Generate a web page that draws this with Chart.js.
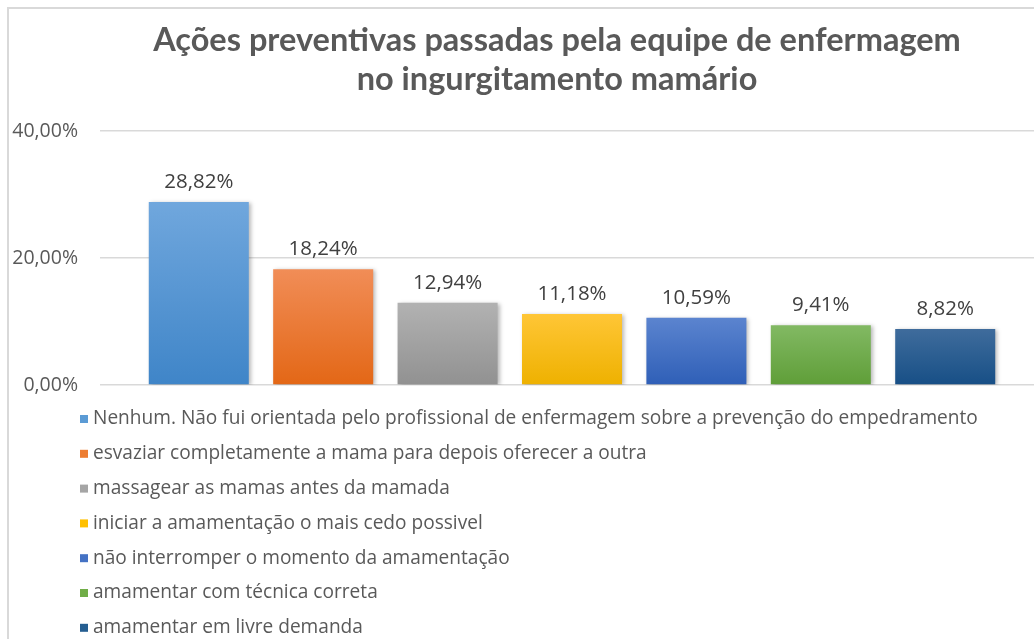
<!DOCTYPE html>
<html>
<head>
<meta charset="utf-8">
<script src="https://cdn.jsdelivr.net/npm/chart.js@4"></script>
<style>
  html, body { margin: 0; padding: 0; background: #ffffff; overflow: hidden; width: 1034px; height: 639px; }
  #wrap { position: absolute; left: 7px; top: 7px; width: 1100px; height: 700px; border: 2px solid #d9d9d9; background: #fff; }
  #box { position: absolute; left: 0; top: 0; width: 1035px; height: 640px; }
</style>
</head>
<body>
<div id="wrap"><div id="box"><canvas id="c"></canvas></div></div>
<script>
const titleLines = ['Ações preventivas passadas pela equipe de enfermagem', 'no ingurgitamento mamário'];
const seriesNames = [
  'Nenhum. Não fui orientada pelo profissional de enfermagem sobre a prevenção do empedramento',
  'esvaziar completamente a mama para depois oferecer a outra',
  'massagear as mamas antes da mamada',
  'iniciar a amamentação o mais cedo possivel',
  'não interromper o momento da amamentação',
  'amamentar com técnica correta',
  'amamentar em livre demanda'
];
const seriesValues = [28.82, 18.24, 12.94, 11.18, 10.59, 9.41, 8.82];
const topColors = ['#70a7dd', '#f18d57', '#b2b2b2', '#ffc636', '#5b84cf', '#82b963', '#3f6c9c'];
const bottomColors = ['#3f85c8', '#e36716', '#919191', '#eeb100', '#2f5fb7', '#5f9e38', '#174f86'];
const legendColors = ['#5b9bd5', '#ed7d31', '#a5a5a5', '#ffc000', '#4472c4', '#70ad47', '#255e91'];
const yTicks = [0, 20, 40];

const fmt = v => v.toFixed(2).replace('.', ',') + '%';
const FONT = '"Open Sans", "Liberation Sans", sans-serif';

function gradFor(i) {
  return function(ctx) {
    const chart = ctx.chart;
    const area = chart.chartArea;
    if (!area || !chart.scales.y) return legendColors[i];
    const yTop = chart.scales.y.getPixelForValue(seriesValues[i]);
    const g = chart.ctx.createLinearGradient(0, yTop, 0, area.bottom);
    g.addColorStop(0, topColors[i]);
    g.addColorStop(1, bottomColors[i]);
    return g;
  };
}

const titlePlugin = {
  id: 'titleDraw',
  afterDraw(chart) {
    const ctx = chart.ctx;
    ctx.save();
    ctx.font = 'bold 32.5px Lato, ' + FONT;
    ctx.fillStyle = '#595959';
    ctx.textAlign = 'center';
    ctx.textBaseline = 'middle';
    titleLines.forEach((t, i) => ctx.fillText(t, 548, 32 + i * 39));
    ctx.restore();
  }
};

const shadowPlugin = {
  id: 'barShadow',
  beforeDatasetsDraw(chart) {
    const ctx = chart.ctx;
    ctx.save();
    ctx.shadowColor = 'rgba(0,0,0,0.28)';
    ctx.shadowBlur = 4;
    ctx.shadowOffsetX = 2;
    ctx.shadowOffsetY = 1;
  },
  afterDatasetsDraw(chart) {
    chart.ctx.restore();
  }
};

const valueLabelPlugin = {
  id: 'valueLabels',
  afterDatasetsDraw(chart) {
    const ctx = chart.ctx;
    ctx.save();
    ctx.font = '20.5px ' + FONT;
    ctx.fillStyle = '#404040';
    ctx.textAlign = 'center';
    ctx.textBaseline = 'alphabetic';
    chart.data.datasets.forEach((ds, i) => {
      chart.getDatasetMeta(i).data.forEach((bar, j) => {
        ctx.fillText(fmt(ds.data[j]), bar.x, bar.y - 14);
      });
    });
    ctx.restore();
  }
};

const legendPlugin = {
  id: 'listLegend',
  afterDraw(chart) {
    const ctx = chart.ctx;
    const a = chart.chartArea;
    ctx.save();
    ctx.font = '19.1px ' + FONT;
    ctx.textAlign = 'left';
    ctx.textBaseline = 'middle';
    chart.data.datasets.forEach((ds, i) => {
      const y = a.bottom + 34 + i * 34.8;
      ctx.fillStyle = legendColors[i];
      ctx.fillRect(a.left - 20, y - 4, 8, 8);
      ctx.fillStyle = '#595959';
      ctx.fillText(ds.label, a.left - 7, y);
    });
    ctx.restore();
  }
};

new Chart(document.getElementById('c'), {
  type: 'bar',
  data: {
    labels: [''],
    datasets: seriesNames.map((name, i) => ({
      label: name,
      data: [seriesValues[i]],
      backgroundColor: gradFor(i),
      borderWidth: 0,
      categoryPercentage: 0.9225,
      barPercentage: 0.804
    }))
  },
  options: {
    responsive: true,
    maintainAspectRatio: false,
    animation: false,
    layout: { padding: { top: 122, bottom: 264, left: 0, right: 0 } },
    plugins: {
      legend: { display: false },
      title: { display: false },
      tooltip: { enabled: false }
    },
    scales: {
      x: { display: false },
      y: {
        min: 0,
        max: 40,
        afterFit(scale) { scale.width = 91; },
        afterBuildTicks(scale) { scale.ticks = yTicks.map(v => ({ value: v })); },
        border: { display: false },
        grid: { color: '#d9d9d9', lineWidth: 1.5, drawTicks: false },
        ticks: {
          padding: 22,
          color: '#595959',
          font: { family: FONT, size: 19.5 },
          callback: v => fmt(v)
        }
      }
    }
  },
  plugins: [titlePlugin, shadowPlugin, valueLabelPlugin, legendPlugin]
});
</script>
</body>
</html>
